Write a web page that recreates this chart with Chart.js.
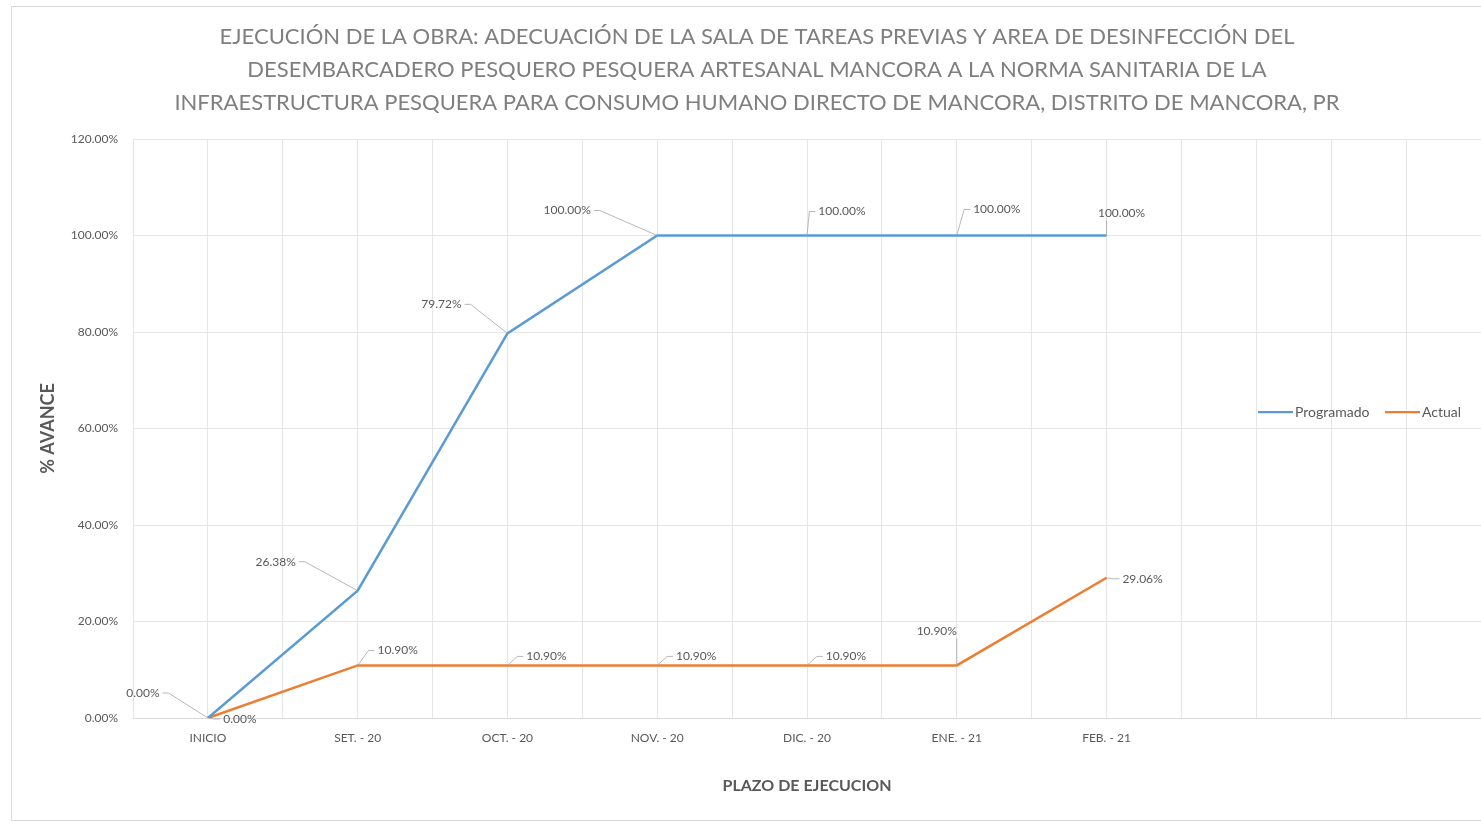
<!DOCTYPE html>
<html>
<head>
<meta charset="utf-8">
<script src="https://cdn.jsdelivr.net/npm/chart.js@4.4.0/dist/chart.umd.min.js"></script>
<style>
  html, body { margin: 0; padding: 0; background: #fff; overflow: hidden; }
  #wrap { position: relative; width: 1481px; height: 831px; }
  #frame { position: absolute; left: 11px; top: 6px; width: 1480px; height: 815px; border: 1px solid #d9d9d9; box-sizing: border-box; }
  canvas { position: absolute; left: 0; top: 0; }
</style>
</head>
<body>
<div id="wrap">
  <div id="frame"></div>
  <canvas id="myChart" width="1481" height="831"></canvas>
</div>
<script>
"use strict"

// data
const categories = ['INICIO', 'SET. - 20', 'OCT. - 20', 'NOV. - 20', 'DIC. - 20', 'ENE. - 21', 'FEB. - 21', '', ''];
const programado = [0, 26.38, 79.72, 100, 100, 100, 100];
const actual = [0, 10.90, 10.90, 10.90, 10.90, 10.90, 29.06];
const yTicks = [0, 20, 40, 60, 80, 100, 120];

const titleLines = [
  'EJECUCIÓN DE LA OBRA: ADECUACIÓN DE LA SALA DE TAREAS PREVIAS Y AREA DE DESINFECCIÓN DEL',
  'DESEMBARCADERO PESQUERO PESQUERA ARTESANAL MANCORA A LA NORMA SANITARIA DE LA',
  'INFRAESTRUCTURA PESQUERA PARA CONSUMO HUMANO DIRECTO DE MANCORA, DISTRITO DE MANCORA, PR'
];

// where each data label sits relative to its point (px), like the manual placement in the original
const labelOffsets = [
  [[-65, -25], [-82, -29], [-66, -29], [-90, -25], [35, -24], [40, -26], [15, -22]],
  [[32, 1], [40, -15], [39, -9], [39, -9], [39, -9], [-20, -34], [36, 1]]
];

const blue = '#5b9bd5';
const orange = '#ed7d31';
const grey = '#595959';

function toPoints(arr) {
  return arr.map((v, i) => ({ x: i, y: v }));
}

const dataLabels = {
  id: 'dataLabels',
  afterDatasetsDraw(chart) {
    const ctx = chart.ctx;
    ctx.save();
    ctx.font = '12px Lato';
    ctx.fillStyle = grey;
    ctx.textAlign = 'center';
    ctx.textBaseline = 'middle';
    chart.data.datasets.forEach((ds, d) => {
      const meta = chart.getDatasetMeta(d);
      meta.data.forEach((pt, i) => {
        const off = labelOffsets[d][i];
        const lx = pt.x + off[0];
        const ly = pt.y + off[1];
        const txt = ds.data[i].y.toFixed(2) + '%';
        const w = ctx.measureText(txt).width / 2 + 3;
        const h = 7;
        // leader line to the label box
        const cx = Math.max(lx - w, Math.min(pt.x, lx + w));
        const cy = Math.max(ly - h, Math.min(pt.y, ly + h));
        const dist = Math.hypot(cx - pt.x, cy - pt.y);
        if (dist > 8) {
          ctx.strokeStyle = '#a6a6a6';
          ctx.lineWidth = 0.8;
          ctx.beginPath();
          ctx.moveTo(pt.x, pt.y);
          if (Math.abs(pt.x - lx) > w) {
            const sx = pt.x < lx ? lx - w : lx + w;
            const stub = pt.x < lx ? sx - 6 : sx + 6;
            ctx.lineTo(stub, ly);
            ctx.lineTo(sx, ly);
          } else {
            ctx.lineTo(cx, cy);
          }
          ctx.stroke();
        }
        ctx.fillText(txt, lx, ly);
      });
    });
    ctx.restore();
  }
};

const legendBox = {
  id: 'legendBox',
  afterDraw(chart) {
    const ctx = chart.ctx;
    const items = [[1258, 0], [1385, 1]];
    ctx.save();
    ctx.font = '14px Lato';
    ctx.textBaseline = 'middle';
    ctx.textAlign = 'left';
    items.forEach(([x, d]) => {
      const ds = chart.data.datasets[d];
      ctx.strokeStyle = ds.borderColor;
      ctx.lineWidth = 2.25;
      ctx.beginPath();
      ctx.moveTo(x, 412);
      ctx.lineTo(x + 35, 412);
      ctx.stroke();
      ctx.fillStyle = grey;
      ctx.fillText(ds.label, x + 37, 412);
    });
    ctx.restore();
  }
};

let myChart = document.getElementById('myChart').getContext('2d');

let avanceChart = new Chart(myChart, {
  type: 'line',
  data: {
    datasets: [{
      label: 'Programado',
      data: toPoints(programado),
      borderColor: blue,
      backgroundColor: blue,
      borderWidth: 2.5,
      pointRadius: 0,
      tension: 0
    }, {
      label: 'Actual',
      data: toPoints(actual),
      borderColor: orange,
      backgroundColor: orange,
      borderWidth: 2.5,
      pointRadius: 0,
      tension: 0
    }]
  },
  options: {
    responsive: false,
    animation: false,
    layout: { padding: { left: 31, right: -2, top: 6, bottom: 0 } },
    plugins: {
      legend: { display: false },
      tooltip: { enabled: false },
      title: {
        display: true,
        text: titleLines,
        color: '#7f7f7f',
        font: { family: 'Lato', size: 22, weight: 'normal', lineHeight: 1.5 },
        padding: { top: 14, bottom: 20 }
      }
    },
    scales: {
      x: {
        type: 'linear',
        min: -0.5,
        max: categories.length - 0.5,
        afterBuildTicks(scale) {
          const t = [];
          for (let v = -0.5; v <= categories.length - 0.5; v += 0.5) t.push({ value: v });
          scale.ticks = t;
        },
        afterFit(scale) {
          scale.height = 113;
          scale.paddingLeft = 0;
          scale.paddingRight = 0;
        },
        grid: { color: '#e6e6e6', lineWidth: 1, drawTicks: false },
        border: { color: '#d9d9d9', width: 1 },
        ticks: {
          autoSkip: false,
          maxRotation: 0,
          padding: 13,
          color: grey,
          font: { family: 'Lato', size: 12 },
          callback(v) {
            return Number.isInteger(v) ? categories[v] : '';
          }
        },
        title: {
          display: true,
          text: 'PLAZO DE EJECUCION',
          color: grey,
          font: { family: 'Lato', size: 16, weight: 'bold', lineHeight: 1.2 },
          padding: { top: 0, bottom: 36 }
        }
      },
      y: {
        min: 0,
        max: 120,
        afterBuildTicks(scale) {
          scale.ticks = yTicks.map(v => ({ value: v }));
        },
        afterFit(scale) { scale.width = 102; },
        grid: { color: '#e6e6e6', lineWidth: 1, drawTicks: false },
        border: { display: false },
        ticks: {
          padding: 15,
          color: grey,
          font: { family: 'Lato', size: 12 },
          callback(v) { return v.toFixed(2) + '%'; }
        },
        title: {
          display: true,
          text: '% AVANCE',
          color: grey,
          font: { family: 'Lato', size: 18, weight: 'bold', lineHeight: 1.2 },
          padding: { top: 6, bottom: 0 }
        }
      }
    }
  },
  plugins: [dataLabels, legendBox]
});
</script>
</body>
</html>
